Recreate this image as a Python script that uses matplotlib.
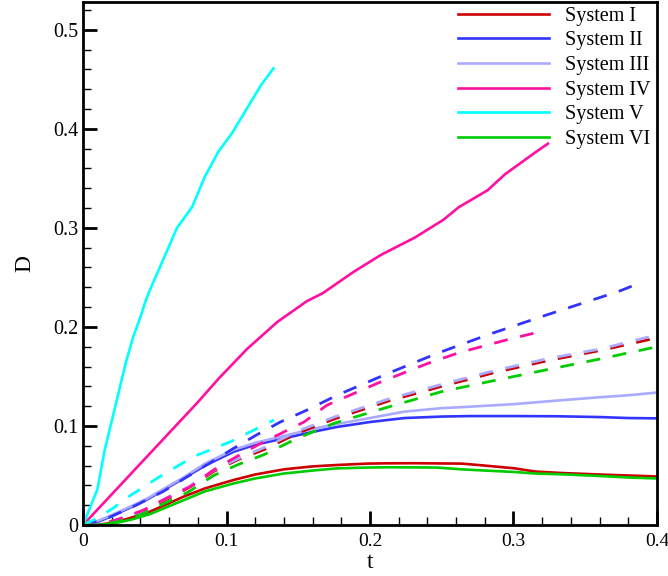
import matplotlib
matplotlib.use('Agg')
import matplotlib.pyplot as plt
from matplotlib.ticker import MultipleLocator, FormatStrFormatter

plt.rcParams['font.family'] = ['Liberation Serif', 'DejaVu Serif']
plt.rcParams['mathtext.fontset'] = 'stix'

# solid curves
x_I = [0, 0.01, 0.023, 0.035, 0.0466, 0.06, 0.07, 0.085, 0.105, 0.12, 0.14, 0.16, 0.177,
       0.198, 0.212, 0.23, 0.247, 0.264, 0.28, 0.301, 0.315, 0.334, 0.36, 0.38, 0.4]
y_I = [0, 0.0, 0.003, 0.008, 0.0135, 0.022, 0.0286, 0.037, 0.0455, 0.051, 0.0562, 0.0592, 0.0606,
       0.0620, 0.0623, 0.0624, 0.0622, 0.0620, 0.060, 0.0572, 0.054, 0.0525, 0.051, 0.050, 0.049]
x_VI = x_I
y_VI = [0, 0, 0.002, 0.006, 0.011, 0.019, 0.025, 0.034, 0.042, 0.047, 0.052, 0.055, 0.0572,
        0.058, 0.0583, 0.0582, 0.058, 0.0562, 0.055, 0.0535, 0.052, 0.0512, 0.0495, 0.048, 0.047]
x_II = [0, 0.01, 0.02, 0.035, 0.045, 0.058, 0.07, 0.085, 0.105, 0.12, 0.14, 0.16, 0.177,
        0.2, 0.224, 0.25, 0.27, 0.3, 0.33, 0.36, 0.38, 0.4]
y_II = [0, 0.003, 0.009, 0.019, 0.026, 0.037, 0.047, 0.060, 0.074, 0.081, 0.0875, 0.094, 0.099,
        0.104, 0.108, 0.1095, 0.110, 0.110, 0.1098, 0.109, 0.108, 0.1077]
x_III = x_II
y_III = [0, 0.004, 0.010, 0.020, 0.027, 0.038, 0.048, 0.062, 0.076, 0.083, 0.090, 0.097, 0.102,
         0.108, 0.1145, 0.118, 0.1195, 0.122, 0.1256, 0.129, 0.131, 0.1337]
x_IV = [0, 0.02, 0.04, 0.06, 0.08, 0.0946, 0.1145, 0.1354, 0.156, 0.167, 0.189, 0.208, 0.231,
        0.251, 0.262, 0.282, 0.294, 0.315, 0.324]
y_IV = [0, 0.031, 0.062, 0.093, 0.124, 0.148, 0.178, 0.205, 0.226, 0.234, 0.256, 0.273, 0.290,
        0.308, 0.321, 0.338, 0.354, 0.376, 0.385]
x_V = [0, 0.005, 0.01, 0.015, 0.02, 0.025, 0.03, 0.035, 0.04, 0.044, 0.048, 0.055, 0.0655,
       0.076, 0.085, 0.0944, 0.104, 0.114, 0.124, 0.1327]
y_V = [0, 0.018, 0.036, 0.075, 0.105, 0.135, 0.165, 0.19, 0.21, 0.228, 0.242, 0.265, 0.300,
       0.321, 0.352, 0.377, 0.396, 0.42, 0.444, 0.461]

# dashed curves
xd_I = [0, 0.01, 0.023, 0.0396, 0.057, 0.073, 0.091, 0.108, 0.126, 0.15, 0.175, 0.2124, 0.25,
        0.287, 0.324, 0.3615, 0.4]
yd_I = [0, 0, 0.005, 0.0124, 0.025, 0.037, 0.054, 0.066, 0.076, 0.093, 0.107, 0.125, 0.140,
        0.154, 0.166, 0.1765, 0.189]
xd_III = xd_I
yd_III = [0, 0, 0.005, 0.013, 0.026, 0.038, 0.055, 0.067, 0.078, 0.095, 0.109, 0.127, 0.142,
          0.156, 0.168, 0.178, 0.192]
xd_VI = xd_I
yd_VI = [0, 0, 0.003, 0.010, 0.022, 0.033, 0.050, 0.061, 0.071, 0.088, 0.1027, 0.119, 0.1347,
         0.146, 0.157, 0.168, 0.180]
xd_II = [0, 0.014, 0.037, 0.056, 0.0746, 0.09, 0.105, 0.121, 0.1375, 0.156, 0.177, 0.2124,
         0.247, 0.282, 0.3196, 0.3545, 0.373, 0.3906]
yd_II = [0, 0.005, 0.020, 0.034, 0.0505, 0.064, 0.0775, 0.091, 0.104, 0.116, 0.131, 0.153,
         0.1734, 0.192, 0.2104, 0.227, 0.2357, 0.2458]
xd_IV = [0, 0.01, 0.023, 0.042, 0.058, 0.075, 0.091, 0.107, 0.122, 0.14, 0.154, 0.17, 0.205,
         0.24, 0.262, 0.298, 0.321]
yd_IV = [0, 0, 0.005, 0.015, 0.027, 0.039, 0.0556, 0.069, 0.081, 0.094, 0.104, 0.121, 0.143,
         0.163, 0.174, 0.188, 0.196]
xd_V = [0, 0.01, 0.021, 0.03, 0.0536, 0.077, 0.1026, 0.133]
yd_V = [0, 0.007, 0.017, 0.027, 0.049, 0.069, 0.084, 0.106]

labels = ['System I', 'System II', 'System III', 'System IV', 'System V', 'System VI']
colors = ['#cc0000', '#3333ff', '#aaaaff', '#ff10a0', '#00ffff', '#00cc00']

solid = [(x_I, y_I), (x_II, y_II), (x_III, y_III), (x_IV, y_IV), (x_V, y_V), (x_VI, y_VI)]
dashed = [(xd_I, yd_I), (xd_II, yd_II), (xd_III, yd_III), (xd_IV, yd_IV), (xd_V, yd_V),
          (xd_VI, yd_VI)]

fig = plt.figure(figsize=(6.68, 5.76), dpi=100)
ax = fig.add_axes([0.1243, 0.0885, 0.8592, 0.908])

for (x, y), c, lab in zip(solid, colors, labels):
    ax.plot(x, y, color=c, lw=1.9, label=lab)
for (x, y), c in zip(dashed, colors):
    ax.plot(x, y, color=c, lw=2.0, dashes=(5, 4.6))

ax.set_xlim(0, 0.4)
ax.set_ylim(0, 0.528)
ax.xaxis.set_major_locator(MultipleLocator(0.1))
ax.xaxis.set_minor_locator(MultipleLocator(0.02))
ax.yaxis.set_major_locator(MultipleLocator(0.1))
ax.yaxis.set_minor_locator(MultipleLocator(0.02))
ax.xaxis.set_major_formatter(FormatStrFormatter('%g'))
ax.yaxis.set_major_formatter(FormatStrFormatter('%g'))
ax.tick_params(which='both', direction='in', top=False, right=False)
ax.tick_params(axis='y', labelsize=14.5)
ax.tick_params(axis='x', labelsize=14, pad=6)
ax.tick_params(which='major', length=10, width=2)
ax.tick_params(which='minor', length=6, width=1)
for s in ax.spines.values():
    s.set_linewidth(2)

ax.set_xlabel('t', fontsize=17, labelpad=1)
ax.set_ylabel('D', fontsize=17, labelpad=13)

ax.legend(loc='upper right', frameon=False, fontsize=14.5, handlelength=4.55,
          handletextpad=0.8, labelspacing=0.27, borderaxespad=0.1,
          bbox_to_anchor=(1.007, 1.01))

fig.savefig('out.png', dpi=100)
